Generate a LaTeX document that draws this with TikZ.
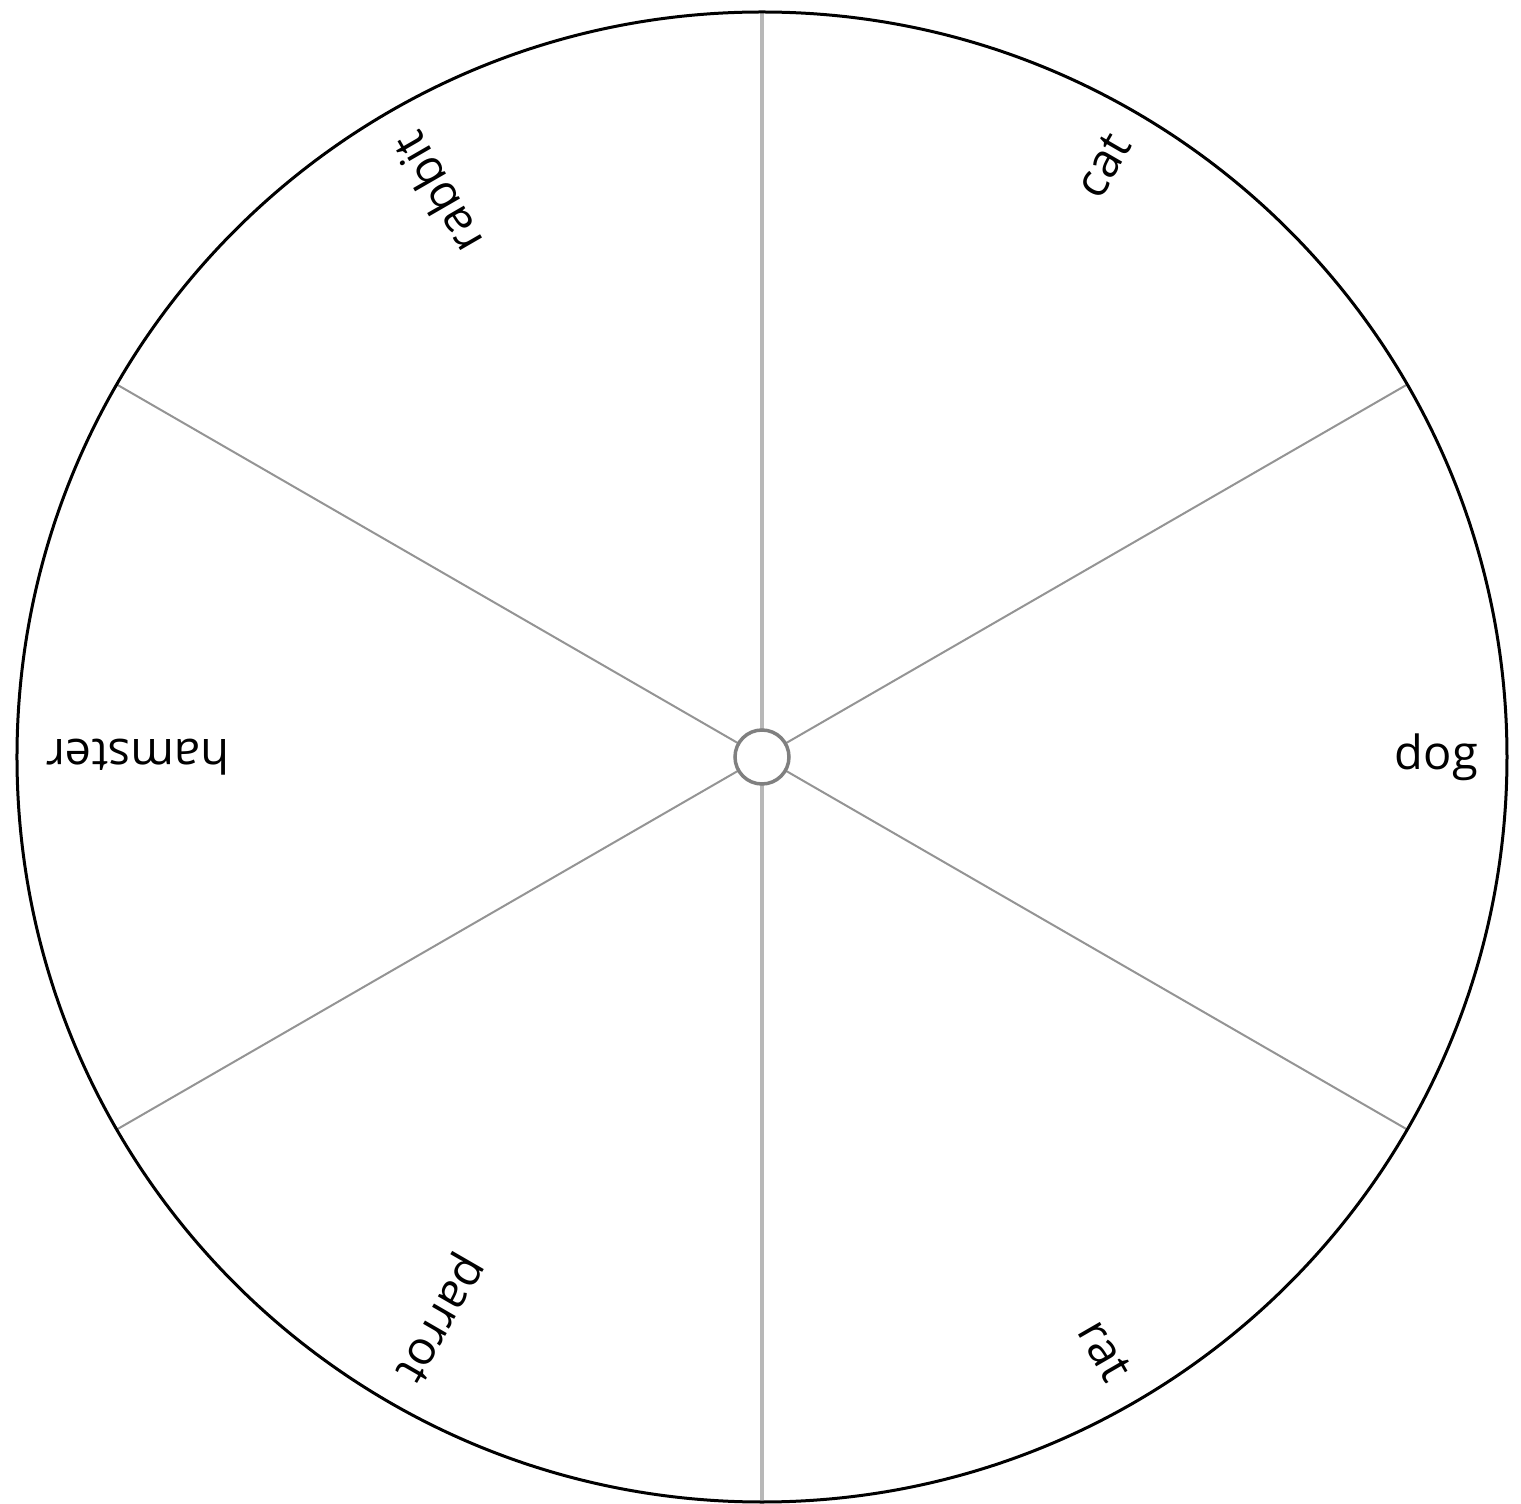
\documentclass[tikz,border=0pt]{standalone}
\usepackage{fontspec}
\setmainfont{Open Sans}
\begin{document}
\begin{tikzpicture}[x=1pt,y=1pt,
  rim/.style={draw=black,line width=3pt},
  vspoke/.style={draw=black!28,line width=3.5pt},
  dspoke/.style={draw=black!42,line width=2pt},
  hub/.style={circle,draw=black!50,line width=3.5pt,fill=white,minimum size=54pt,inner sep=0},
  lab/.style={anchor=east,inner sep=0,font=\fontsize{47}{56}\selectfont}]
\useasboundingbox (-762,-747) rectangle (759,757);
\coordinate (c) at (0,0);
\foreach \a/\n in {90/n,30/ne,-30/se,-90/s,210/sw,150/nw}{\coordinate (\n) at (\a:745);}
\draw[vspoke] (c) -- (n);
\draw[vspoke] (c) -- (s);
\draw[dspoke] (c) -- (ne);
\draw[dspoke] (c) -- (se);
\draw[dspoke] (c) -- (sw);
\draw[dspoke] (c) -- (nw);
\draw[rim] (c) circle (745);
\node[hub] (h) at (c) {};
\node[lab,rotate=0] (dog) at (0:716) {dog};
\node[lab,rotate=60] (cat) at (60:716) {cat};
\node[lab,rotate=120] (rabbit) at (120:716) {rabbit};
\node[lab,rotate=180] (hamster) at (180:716) {hamster};
\node[lab,rotate=240] (parrot) at (240:716) {parrot};
\node[lab,rotate=300] (rat) at (300:716) {rat};
\end{tikzpicture}
\end{document}
